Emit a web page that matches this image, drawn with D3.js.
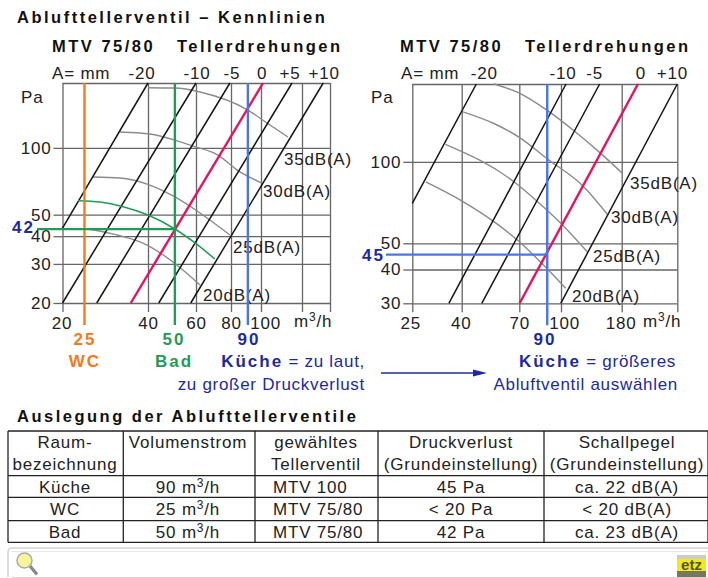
<!DOCTYPE html>
<html>
<head>
<meta charset="utf-8">
<script src="https://cdn.jsdelivr.net/npm/d3@7"></script>
<style>
    body { margin: 0; background: #fff; }
    svg { display: block; }
    text { font-family: "Liberation Sans", Arial, sans-serif; fill: #222; }
    .num { font-size: 17px; letter-spacing: 0.8px; }
    .head { font-size: 16.5px; font-weight: bold; letter-spacing: 2.5px; fill: #111; }
    .big { font-size: 17px; font-weight: bold; letter-spacing: 2px; }
</style>
</head>
<body>
<div id="chart"></div>
<script>
// left chart, MTV 75/80
const leftFlowTicks = [20, 40, 60, 80, 100, 140, 175];
const leftFlowLabels = ["20", "40", "60", "80", "100", "", ""];
const leftPaTicks = [20, 30, 40, 50, 100, 196];
const leftPaLabels = ["20", "30", "40", "50", "100", ""];
const leftSettings = ["-20", "-10", "-5", "0", "+5", "+10"];
const leftTopFlow = [40, 60, 79.3, 101.7, 129, 165.8];
const leftBottomFlow = [20, 20, 26.4, 34.8, 43.8, 57.4];
const leftBottomPa = [43.5, 20, 20, 20, 20, 20];
const leftCurve35 = [[40, 186.6], [50.2, 186], [62, 178.5], [90.7, 148], [105, 129.4], [124.8, 111.9]];
const leftCurve30 = [[31.9, 117.9], [40.7, 115.4], [50.2, 108.4], [58.5, 101.9], [71.9, 92.8], [83.8, 79.4], [100.8, 69.4]];
const leftCurve25 = [[25.6, 73.9], [31.9, 73.1], [39.7, 68.7], [50.2, 60.1], [62, 50.9], [79.3, 40.5]];
const leftCurve23 = [[22.7, 57.8], [27.1, 57], [32.7, 54.3], [40, 49.8], [50.2, 43.1], [59.5, 37.3], [70, 31.6]];
const leftCurve20 = [[20.1, 43.1], [23.6, 43.1], [31.1, 40.5], [39.7, 36.5], [49.4, 30.6], [62, 24.1]];
const wcFlow = 23.9, badFlow = 50.2, kuecheFlow = 90.7, badPa = 43;

// right chart, MTV 100
const rightFlowTicks = [25, 40, 70, 100, 180, 310];
const rightFlowLabels = ["25", "40", "70", "100", "180", ""];
const rightPaTicks = [30, 40, 50, 100, 194];
const rightPaLabels = ["30", "40", "50", "100", ""];
const rightSettings = ["-20", "-10", "-5", "0", "+10"];
const rightTopFlow = [46.1, 105, 145.4, 211, 310];
const rightBottomFlow = [25, 35.4, 48.6, 70.2, 99.8];
const rightBottomPa = [70.2, 30, 30, 30, 30];
const rightCurve35 = [[54.7, 194], [70.9, 178.4], [88.9, 155], [113.4, 130.3], [146.9, 107.5], [181, 90.8]];
const rightCurve30 = [[40.2, 153.4], [54.7, 138.6], [70.9, 122.2], [88.9, 102.6], [124.9, 80.8], [156.6, 64]];
const rightCurve25 = [[34.3, 116.1], [66.5, 84.4], [80.7, 72.1], [99.8, 59.3], [129, 46.5]];
const rightCurve20 = [[28.4, 84.4], [39.7, 72.1], [54.7, 60.1], [68.7, 51.4], [85, 42.1], [104.7, 34.1]];
const rightKuecheFlow = 88.9, rightKuechePa = 45.4;

// table
const tableHead1 = ["Raum-", "Volumenstrom", "gewähltes", "Druckverlust", "Schallpegel"];
const tableHead2 = ["bezeichnung", "", "Tellerventil", "(Grundeinstellung)", "(Grundeinstellung)"];
const rowKueche = ["Küche", "90 m3/h", "MTV 100", "45 Pa", "ca. 22 dB(A)"];
const rowWc = ["WC", "25 m3/h", "MTV 75/80", "< 20 Pa", "< 20 dB(A)"];
const rowBad = ["Bad", "50 m3/h", "MTV 75/80", "42 Pa", "ca. 23 dB(A)"];

const orange = "#f8791c", green = "#1f9d57", blue = "#4b74ea", pink = "#e8105f", navy = "#1c2aa6";

const svg = d3.select("#chart").append("svg").attr("width", 708).attr("height", 578);

function addText(parent, x, y, str, cls, color, anchor) {
    let t = parent.append("text").attr("x", x).attr("y", y).attr("class", cls).text(str);
    if (color) t.style("fill", color);
    if (anchor) t.attr("text-anchor", anchor);
    return t;
}

// writes m3/h with a raised 3
function addUnit(parent, x, y, str, anchor) {
    let parts = str.split("3/h");
    let t = parent.append("text").attr("x", x).attr("y", y).attr("class", "num");
    if (anchor) t.attr("text-anchor", anchor);
    t.append("tspan").text(parts[0]);
    t.append("tspan").attr("dy", -6).style("font-size", "12px").text("3");
    t.append("tspan").attr("dy", 6).text("/h");
    return t;
}

function drawChart(c) {
    let g = svg.append("g");

    let x = d3.scaleLog().domain(c.flowTicks).range(c.xRange);
    let y = d3.scaleLog().domain(c.paDomain).range(c.yRange);
    let top = c.yRange[1], bottom = c.yRange[0], left = c.xRange[0], right = c.xRange[c.xRange.length - 1];

    // grid
    let gridX = g.append("g").attr("transform", `translate(0,${bottom})`)
        .call(d3.axisBottom(x).tickValues(c.flowTicks).tickSizeInner(top - bottom).tickSizeOuter(0).tickFormat(""));
    let gridY = g.append("g").attr("transform", `translate(${left},0)`)
        .call(d3.axisLeft(y).tickValues(c.paTicks).tickSizeInner(left - right).tickSizeOuter(0).tickFormat(""));

    // ticks with labels
    let axisX = g.append("g").attr("transform", `translate(0,${bottom})`)
        .call(d3.axisBottom(x).tickValues(c.flowTicks).tickSizeInner(9).tickSizeOuter(0).tickPadding(5)
            .tickFormat((d, i) => c.flowLabels[i]));
    let axisY = g.append("g").attr("transform", `translate(${left},0)`)
        .call(d3.axisLeft(y).tickValues(c.paTicks.slice(0, -1)).tickSizeInner(9).tickSizeOuter(0).tickPadding(2)
            .tickFormat((d, i) => c.paLabels[i]));

    [gridX, gridY, axisX, axisY].forEach(a => {
        a.select(".domain").remove();
        a.selectAll("line").attr("stroke", "#666").attr("stroke-width", 1.3);
    });
    axisX.selectAll("text").attr("class", "num").attr("dx", (d, i) => c.flowDx[i]).attr("fill", null);
    axisY.selectAll("text").attr("class", "num").attr("fill", null);

    addText(g, c.paX, 103, "Pa", "num");
    addUnit(g, c.unitX, 326.5, "m3/h");

    // dB curves
    let line = d3.line().x(d => x(d[0])).y(d => y(d[1])).curve(d3.curveMonotoneX);
    g.selectAll(".curve").data(c.curves).enter().append("path")
        .attr("class", "curve")
        .attr("fill", "none")
        .attr("stroke", "#8b8b8b")
        .attr("stroke-width", 1.4)
        .attr("d", d => line(d));

    // setting lines
    g.selectAll(".setting").data(c.settings).enter().append("line")
        .attr("class", "setting")
        .attr("x1", (d, i) => x(c.bottomFlow[i]))
        .attr("y1", (d, i) => y(c.bottomPa[i]))
        .attr("x2", (d, i) => x(c.topFlow[i]))
        .attr("y2", top)
        .attr("stroke", d => d === "0" ? pink : "#151515")
        .attr("stroke-width", d => d === "0" ? 2.4 : 1.5);

    // setting labels on top
    addText(g, c.headX, 79, "A= mm", "num");
    g.selectAll(".setLabel").data(c.settings).enter().append("text")
        .attr("class", "setLabel num")
        .attr("x", (d, i) => x(c.topFlow[i]) + c.settingDx[i])
        .attr("y", 79)
        .attr("text-anchor", "middle")
        .text(d => d);

    addText(g, c.titleX, 52, "MTV 75/80", "head");
    addText(g, c.titleX + 125, 52, "Tellerdrehungen", "head");

    c.dbLabels.forEach(d => addText(g, d.x, d.y, d.text, "num"));

    return {x: x, y: y, g: g, top: top, bottom: bottom, left: left};
}

function vertical(ch, flow, color) {
    ch.g.append("line")
        .attr("x1", ch.x(flow)).attr("x2", ch.x(flow))
        .attr("y1", ch.top).attr("y2", ch.bottom + 22)
        .attr("stroke", color).attr("stroke-width", 2.4);
}

function horizontal(ch, flow, pa, startX, color) {
    ch.g.append("line")
        .attr("x1", startX).attr("x2", ch.x(flow))
        .attr("y1", ch.y(pa)).attr("y2", ch.y(pa))
        .attr("stroke", color).attr("stroke-width", 2.2);
}

svg.append("text").attr("x", 17).attr("y", 23).attr("class", "head").text("Ablufttellerventil – Kennlinien");

let leftChart = drawChart({
    flowTicks: leftFlowTicks, flowLabels: leftFlowLabels, flowDx: [-1, 0, 0, 0, 4, 0, 0],
    paDomain: [20, 196], paTicks: leftPaTicks, paLabels: leftPaLabels,
    xRange: [62.5, 148, 196, 231, 261, 302, 330], yRange: [303, 83],
    settings: leftSettings, topFlow: leftTopFlow, bottomFlow: leftBottomFlow, bottomPa: leftBottomPa,
    settingDx: [-6, 1, 2, -1, -2, 1],
    curves: [leftCurve35, leftCurve30, leftCurve25, leftCurve20],
    paX: 21, unitX: 294, headX: 52, titleX: 52,
    dbLabels: [
        {text: "35dB(A)", x: 284, y: 165}, {text: "30dB(A)", x: 263, y: 197},
        {text: "25dB(A)", x: 233, y: 253}, {text: "20dB(A)", x: 203, y: 301}
    ]
});

// green curve of the bathroom point goes over the grey ones
leftChart.g.append("path")
    .attr("fill", "none").attr("stroke", green).attr("stroke-width", 1.5)
    .attr("d", d3.line().x(d => leftChart.x(d[0])).y(d => leftChart.y(d[1])).curve(d3.curveMonotoneX)(leftCurve23));

vertical(leftChart, wcFlow, orange);
vertical(leftChart, badFlow, green);
vertical(leftChart, kuecheFlow, blue);
horizontal(leftChart, badFlow, badPa, 37, green);

addText(svg, 35, 233, "42", "big", navy, "end");
addText(svg, 85, 345, "25", "big", orange, "middle");
addText(svg, 85, 367, "WC", "big", orange, "middle");
addText(svg, 174, 345, "50", "big", green, "middle");
addText(svg, 174, 367, "Bad", "big", green, "middle");
addText(svg, 249, 345, "90", "big", navy, "middle");

let rightChart = drawChart({
    flowTicks: rightFlowTicks, flowLabels: rightFlowLabels, flowDx: [-2, -1, 0, 3, -1, 0],
    paDomain: [30, 194], paTicks: rightPaTicks, paLabels: rightPaLabels,
    xRange: [412.3, 461.7, 519.3, 561, 621.7, 677.3], yRange: [303.3, 84],
    settings: rightSettings, topFlow: rightTopFlow, bottomFlow: rightBottomFlow, bottomPa: rightBottomPa,
    settingDx: [8, -3, -5, 3, -5],
    curves: [rightCurve35, rightCurve30, rightCurve25, rightCurve20],
    paX: 371, unitX: 643, headX: 401, titleX: 400,
    dbLabels: [
        {text: "35dB(A)", x: 630, y: 189}, {text: "30dB(A)", x: 611, y: 223},
        {text: "25dB(A)", x: 593, y: 262}, {text: "20dB(A)", x: 572, y: 302}
    ]
});

vertical(rightChart, rightKuecheFlow, blue);
horizontal(rightChart, rightKuecheFlow, rightKuechePa, 386, blue);

addText(svg, 385, 261, "45", "big", navy, "end");
addText(svg, 545, 345, "90", "big", navy, "middle");

// notes under the charts
function note(x, y, anchor, bold, plain) {
    let t = svg.append("text").attr("x", x).attr("y", y).attr("text-anchor", anchor)
        .style("font-size", "17px").style("fill", navy);
    if (bold) t.append("tspan").style("font-weight", "bold").style("letter-spacing", "2px").text(bold);
    t.append("tspan").style("letter-spacing", "0.7px").text(plain);
}
note(365, 367, "end", "Küche", " = zu laut,");
note(365, 390, "end", "", "zu großer Druckverlust");
note(676, 367, "end", "Küche", " = größeres");
note(678, 390, "end", "", "Abluftventil auswählen");

svg.append("line").attr("x1", 381).attr("x2", 476).attr("y1", 373).attr("y2", 373)
    .attr("stroke", navy).attr("stroke-width", 1.4);
svg.append("path").attr("d", "M473,369.5L487,373L473,376.5Z").attr("fill", navy);

// table
const colEdges = [8, 123.3, 255, 378, 544, 708];
const rowEdges = [431, 475.7, 497.3, 520.7, 542.3];
const colCenters = [65, 188, 316, 461, 627];

svg.append("text").attr("x", 17).attr("y", 422).attr("class", "head").text("Auslegung der Ablufttellerventile");

let tableG = svg.append("g");
tableG.selectAll(".hrule").data(rowEdges).enter().append("line")
    .attr("x1", colEdges[0]).attr("x2", colEdges[5])
    .attr("y1", d => d).attr("y2", d => d)
    .attr("stroke", "#222").attr("stroke-width", 1.3);
tableG.selectAll(".vrule").data(colEdges).enter().append("line")
    .attr("x1", d => d).attr("x2", d => d)
    .attr("y1", rowEdges[0]).attr("y2", rowEdges[4])
    .attr("stroke", "#222").attr("stroke-width", 1.3);

function tableRow(cells, y) {
    cells.forEach((txt, i) => {
        if (txt.indexOf("3/h") > -1) {
            addUnit(tableG, colCenters[i], y, txt, "middle");
        } else if (i === 2 && y > 480) {
            addText(tableG, 273, y, txt, "num");
        } else {
            addText(tableG, colCenters[i], y, txt, "num", null, "middle");
        }
    });
}
tableRow(tableHead1, 448);
tableRow(tableHead2, 470);
tableRow(rowKueche, 492.7);
tableRow(rowWc, 515);
tableRow(rowBad, 537.7);

// search bar at the bottom
svg.append("path").attr("d", "M8,577V552Q8,548 12,548H708").attr("fill", "none").attr("stroke", "#d4d4d4").attr("stroke-width", 1.5);
svg.append("line").attr("x1", 12).attr("x2", 708).attr("y1", 551.5).attr("y2", 551.5).attr("stroke", "#e6e6e6");
svg.append("line").attr("x1", 12).attr("x2", 708).attr("y1", 577.5).attr("y2", 577.5).attr("stroke", "#d4d4d4");
svg.append("line").attr("x1", 30).attr("x2", 37).attr("y1", 566).attr("y2", 574.5).attr("stroke", "#888").attr("stroke-width", 3.2);
svg.append("circle").attr("cx", 24.5).attr("cy", 560.5).attr("r", 7.5).attr("fill", "#f6f59a").attr("stroke", "#aaa").attr("stroke-width", 1.5);

// etz logo
svg.append("rect").attr("x", 677).attr("y", 555).attr("width", 29).attr("height", 4).attr("fill", "#ccc");
svg.append("rect").attr("x", 677).attr("y", 559).attr("width", 29).attr("height", 12).attr("fill", "#f2ea1a");
svg.append("rect").attr("x", 677).attr("y", 571).attr("width", 29).attr("height", 6).attr("fill", "#77775f");
svg.append("text").attr("x", 691.5).attr("y", 570).attr("text-anchor", "middle")
    .style("font-size", "15px").style("font-weight", "bold").style("fill", "#55552a").text("etz");
</script>
</body>
</html>
